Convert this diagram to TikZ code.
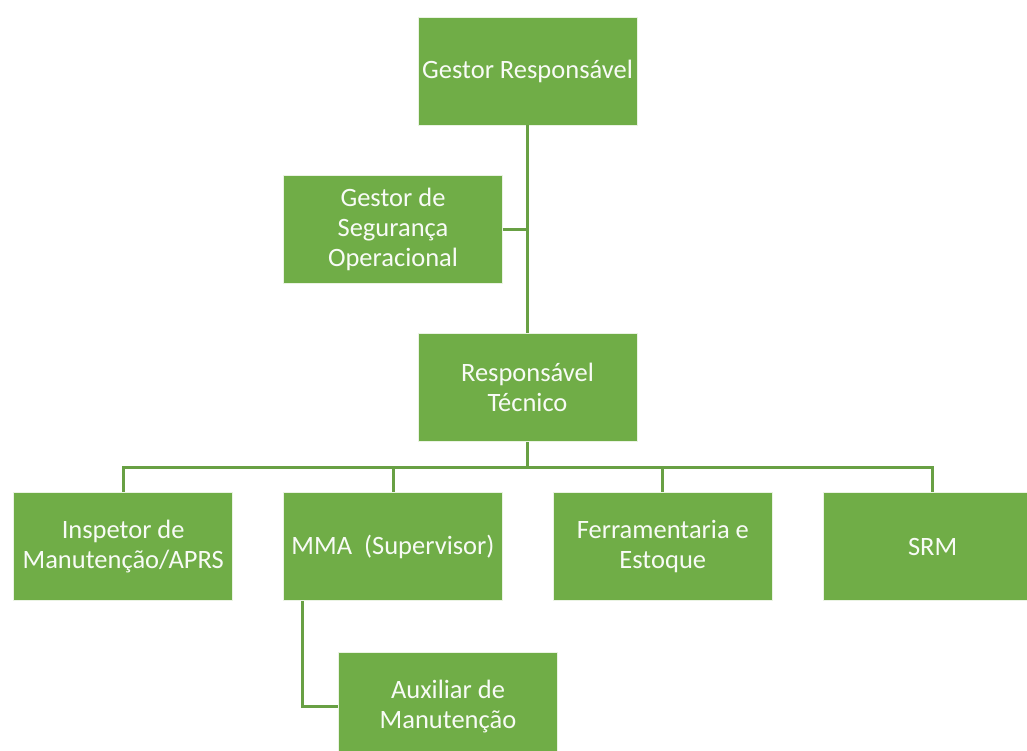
\documentclass[tikz,border=0pt]{standalone}
\usepackage{fontspec}
\setmainfont{Carlito}
\usetikzlibrary{positioning, calc}

\definecolor{verdecaixa}{HTML}{70AD47}
\definecolor{verdelinha}{HTML}{68A044}

\begin{document}
\begin{tikzpicture}[
        x=1pt, y=1pt,
        node distance=50pt,
        % --- ESTILOS ---
        cargo/.style={
                draw=white!85!verdecaixa,
                line width=0.8pt,
                fill=verdecaixa,
                text=white!95!verdecaixa,
                align=center,
                minimum width=219pt,
                minimum height=108pt,
                inner sep=1pt,
                font=\fontsize{26.5}{30}\selectfont
            },
        ligacao/.style={
                draw=verdelinha,
                line width=3pt
            }
    ]

    % 0. Moldura
    \fill[white] (0,0) rectangle (1027,-751);
    \useasboundingbox (0,0) rectangle (1027,-751);
    \clip (0,0) rectangle (1027,-751);

    % 1. Topo
    \node[cargo] (gr) at (527.5,-71) {Gestor Responsável};
    \node[cargo, below=208pt of gr] (rt) {Responsável\\Técnico};

    % 2. Linha dos setores
    \node[cargo, below=50pt of rt, xshift=-134.5pt] (mma) {MMA\ \ (Supervisor)};
    \node[cargo, left=of mma] (insp) {Inspetor de\\Manutenção/APRS};
    \node[cargo, right=of mma] (ferr) {Ferramentaria e\\Estoque};
    \node[cargo, right=of ferr] (srm) {SRM};

    % 3. Assessoria e auxiliar
    \node[cargo, above=208pt of mma] (gso) {Gestor de\\Segurança\\Operacional};
    \node[cargo, below=51pt of mma, xshift=55pt] (aux) {Auxiliar de\\Manutenção};

    % 4. Ligações
    \draw[ligacao] (gr) -- (rt);
    \draw[ligacao] (gso.east) -- (gso.east -| gr.south);
    \foreach \setor in {insp, mma, ferr, srm}
        \draw[ligacao] (rt.south) -- ++(0,-25) -| (\setor.north);
    \draw[ligacao] ($(mma.south west)+(19,0)$) |- (aux.west);

\end{tikzpicture}
\end{document}
